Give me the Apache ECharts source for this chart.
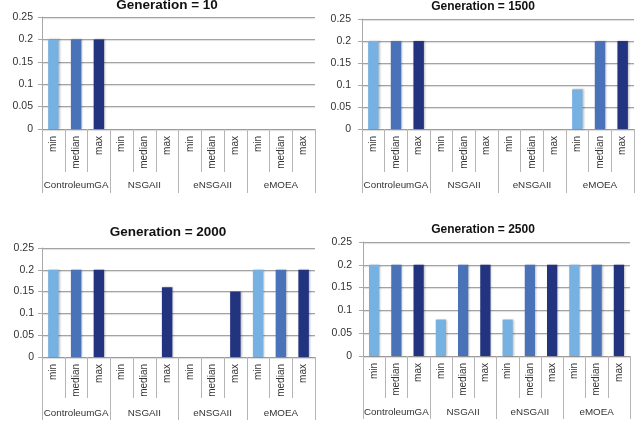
<!DOCTYPE html>
<html><head><meta charset="utf-8">
<script src="https://cdn.jsdelivr.net/npm/echarts@6/dist/echarts.min.js"></script>
<style>html,body{margin:0;padding:0;background:#fff}#c{width:637px;height:425px}</style>
</head><body><div id="c"></div>
<script>
const measures = ['min', 'median', 'max'];
const groups = ['ControleumGA', 'NSGAII', 'eNSGAII', 'eMOEA'];
const categories = groups.flatMap(() => measures);
const titles = ['Generation = 10', 'Generation = 1500', 'Generation = 2000', 'Generation = 2500'];
const gen10   = [0.2, 0.2, 0.2,  0, 0, 0,        0, 0, 0,        0, 0, 0];
const gen1500 = [0.2, 0.2, 0.2,  0, 0, 0,        0, 0, 0,        0.09, 0.2, 0.2];
const gen2000 = [0.2, 0.2, 0.2,  0, 0, 0.16,     0, 0, 0.15,     0.2, 0.2, 0.2];
const gen2500 = [0.2, 0.2, 0.2,  0.08, 0.2, 0.2, 0.08, 0.2, 0.2, 0.2, 0.2, 0.2];
const seriesData = [gen10, gen1500, gen2000, gen2500];
const yMin = 0, yMax = 0.25, yStep = 0.05;
const colors = ['#77b1e1', '#4a72b9', '#22337f'];

const panels = [
  {left: 42,  top: 17,  width: 273, height: 112, inner: 43, outer: 64, ym: 9,  tx: 167, ty: -2,  ts: 13.5},
  {left: 362, top: 19,  width: 272, height: 110, inner: 43, outer: 64, ym: 11, tx: 483, ty: 1,  ts: 12},
  {left: 42,  top: 248, width: 273, height: 109, inner: 41, outer: 63, ym: 8,  tx: 168, ty: 225.5, ts: 13.5},
  {left: 363, top: 242, width: 267, height: 114, inner: 42, outer: 63, ym: 11, tx: 483, ty: 223.5, ts: 12}
];
const FONT = 'Liberation Sans';
const grids = [], xAxes = [], yAxes = [], series = [], titleArr = [];
panels.forEach((p, i) => {
  grids.push({left: p.left, top: p.top, width: p.width, height: p.height, containLabel: false});
  titleArr.push({text: titles[i], left: p.tx, top: p.ty, textAlign: 'center', padding: 0,
    textStyle: {fontFamily: FONT, fontSize: p.ts, fontWeight: 'bold', color: '#111'}});
  xAxes.push({type: 'category', gridIndex: i, data: categories, position: 'bottom',
    axisLine: {show: true, lineStyle: {color: '#9a9a9a', width: 1}},
    axisTick: {show: true, interval: 0, length: p.inner, lineStyle: {color: '#b5b5b5'}},
    axisLabel: {interval: 0, rotate: 90, margin: 7, fontFamily: FONT, fontSize: 10, color: '#333'},
    splitLine: {show: false}});
  xAxes.push({type: 'category', gridIndex: i, data: groups, position: 'bottom', offset: 0,
    axisLine: {show: false},
    axisTick: {show: true, interval: 0, length: p.outer, lineStyle: {color: '#b5b5b5'}},
    axisLabel: {interval: 0, margin: 51, fontFamily: FONT, fontSize: 9.8, color: '#333'},
    splitLine: {show: false}});
  yAxes.push({type: 'value', gridIndex: i, min: yMin, max: yMax, interval: yStep,
    axisLine: {show: true, lineStyle: {color: '#a8a8a8'}},
    axisTick: {show: true, length: 4, lineStyle: {color: '#a8a8a8'}},
    axisLabel: {margin: p.ym, fontFamily: FONT, fontSize: 10.5, color: '#333',
      formatter: v => String(+v.toFixed(2))},
    splitLine: {show: true, lineStyle: {color: '#a3a3a3', width: 1, shadowColor: 'rgba(0,0,0,0.15)', shadowBlur: 1, shadowOffsetY: 1}}});
  series.push({type: 'bar', xAxisIndex: i * 2, yAxisIndex: i, data: seriesData[i], barWidth: '46%',
    itemStyle: {color: prm => colors[prm.dataIndex % 3], shadowColor: 'rgba(0,0,0,0.25)', shadowBlur: 2, shadowOffsetX: 1, shadowOffsetY: 0},
    emphasis: {disabled: true}, animation: false});
});
const chart = echarts.init(document.getElementById('c'), null, {renderer: 'canvas'});
chart.setOption({animation: false, backgroundColor: '#fff', title: titleArr, grid: grids, xAxis: xAxes, yAxis: yAxes, series: series});
</script></body></html>
